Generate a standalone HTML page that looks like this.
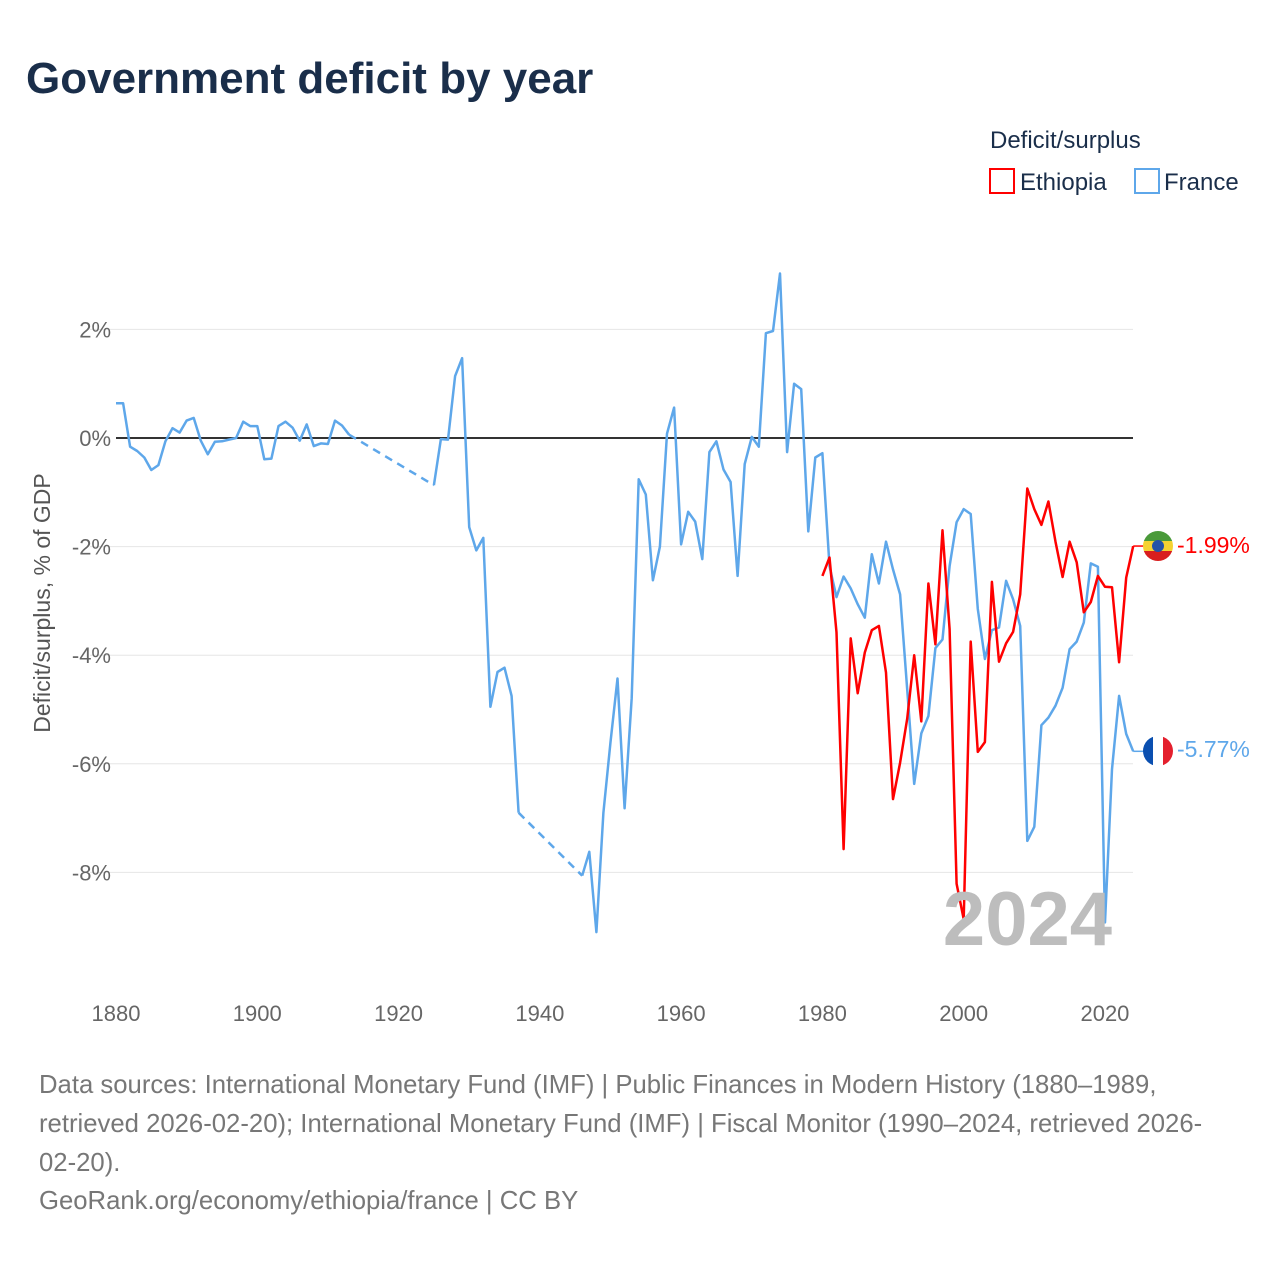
<!DOCTYPE html>
<html><head><meta charset="utf-8"><style>
body{margin:0;background:#fff;font-family:"Liberation Sans",sans-serif;}
svg text{font-family:"Liberation Sans",sans-serif;}
</style></head><body>
<svg id="chart" width="1280" height="1280" xmlns="http://www.w3.org/2000/svg">
<rect width="1280" height="1280" fill="#fff"/>
<text x="26" y="93" font-size="44" font-weight="bold" fill="#1a2e4a">Government deficit by year</text>
<text x="990" y="148" font-size="24" fill="#1a2e4a">Deficit/surplus</text>
<g><rect x="990" y="169" width="24" height="24" fill="none" stroke="#f00" stroke-width="2"/><text x="1020" y="190" font-size="24" fill="#1a2e4a">Ethiopia</text></g>
<g><rect x="1135" y="169" width="24" height="24" fill="none" stroke="#5ea7ea" stroke-width="2"/><text x="1164" y="190" font-size="24" fill="#1a2e4a">France</text></g>
<g id="grid"></g><g id="marks"></g>
<text transform="translate(50,603) rotate(-90)" text-anchor="middle" font-size="23" fill="#555">Deficit/surplus, % of GDP</text>
<text x="1112" y="945" text-anchor="end" font-size="76" font-weight="bold" fill="#bdbdbd">2024</text>
<g>
<clipPath id="ce"><circle cx="1158" cy="546" r="15"/></clipPath>
<g clip-path="url(#ce)"><rect x="1140" y="530" width="40" height="11" fill="#4a9a3a"/><rect x="1140" y="541" width="40" height="10" fill="#f5d230"/><rect x="1140" y="551" width="40" height="12" fill="#d81e1e"/><circle cx="1158" cy="546" r="6" fill="#2452a8"/></g></g>
<g>
<clipPath id="cf"><circle cx="1158" cy="751" r="15"/></clipPath>
<g clip-path="url(#cf)"><rect x="1140" y="734" width="13" height="36" fill="#0a4fb0"/><rect x="1153" y="734" width="10" height="36" fill="#fff"/><rect x="1163" y="734" width="16" height="36" fill="#e4202e"/></g></g>
<text x="1177" y="553" font-size="23" fill="#f00">-1.99%</text>
<text x="1177" y="757" font-size="23" fill="#5ea7ea">-5.77%</text>
<g font-size="25.7" fill="#777">
<text x="39" y="1093">Data sources: International Monetary Fund (IMF) | Public Finances in Modern History (1880–1989,</text>
<text x="39" y="1132">retrieved 2026-02-20); International Monetary Fund (IMF) | Fiscal Monitor (1990–2024, retrieved 2026-</text>
<text x="39" y="1171">02-20).</text>
<text x="39" y="1209">GeoRank.org/economy/ethiopia/france | CC BY</text>
</g>
</svg>
<script>
const franceYears1=[1880,1881,1882,1883,1884,1885,1886,1887,1888,1889,1890,1891,1892,1893,1894,1895,1896,1897,1898,1899,1900,1901,1902,1903,1904,1905,1906,1907,1908,1909,1910,1911,1912,1913];
const franceVals1=[0.64,0.64,-0.16,-0.24,-0.36,-0.59,-0.5,-0.06,0.18,0.1,0.32,0.37,-0.05,-0.3,-0.07,-0.06,-0.03,0.0,0.3,0.22,0.22,-0.39,-0.38,0.22,0.3,0.19,-0.05,0.25,-0.15,-0.1,-0.11,0.32,0.23,0.06];
const franceYears2=[1925,1926,1927,1928,1929,1930,1931,1932,1933,1934,1935,1936,1937];
const franceVals2=[-0.87,-0.02,-0.03,1.14,1.47,-1.64,-2.07,-1.84,-4.95,-4.31,-4.23,-4.75,-6.9];
const franceYears3=[1946,1947,1948,1949,1950,1951,1952,1953,1954,1955,1956,1957,1958,1959,1960,1961,1962,1963,1964,1965,1966,1967,1968,1969,1970,1971,1972,1973,1974,1975,1976,1977,1978,1979,1980,1981,1982,1983,1984,1985,1986,1987,1988,1989,1990,1991,1992,1993,1994,1995,1996,1997,1998,1999,2000,2001,2002,2003,2004,2005,2006,2007,2008,2009,2010,2011,2012,2013,2014,2015,2016,2017,2018,2019,2020,2021,2022,2023,2024];
const franceVals3=[-8.06,-7.62,-9.1,-6.9,-5.6,-4.43,-6.82,-4.79,-0.76,-1.04,-2.62,-2.0,0.08,0.56,-1.96,-1.36,-1.54,-2.23,-0.26,-0.06,-0.58,-0.81,-2.54,-0.48,0.02,-0.16,1.93,1.97,3.03,-0.26,1.0,0.9,-1.72,-0.36,-0.28,-2.36,-2.93,-2.55,-2.77,-3.06,-3.31,-2.14,-2.68,-1.91,-2.42,-2.88,-4.63,-6.37,-5.44,-5.12,-3.87,-3.71,-2.36,-1.55,-1.31,-1.4,-3.15,-4.07,-3.54,-3.49,-2.63,-2.97,-3.46,-7.42,-7.16,-5.29,-5.15,-4.93,-4.6,-3.89,-3.75,-3.4,-2.31,-2.37,-8.92,-6.1,-4.75,-5.45,-5.77];
const ethiopiaYears=[1980,1981,1982,1983,1984,1985,1986,1987,1988,1989,1990,1991,1992,1993,1994,1995,1996,1997,1998,1999,2000,2001,2002,2003,2004,2005,2006,2007,2008,2009,2010,2011,2012,2013,2014,2015,2016,2017,2018,2019,2020,2021,2022,2023,2024];
const ethiopiaVals=[-2.54,-2.2,-3.58,-7.57,-3.69,-4.7,-3.95,-3.54,-3.46,-4.32,-6.65,-5.98,-5.17,-4.0,-5.22,-2.68,-3.8,-1.7,-3.52,-8.21,-8.86,-3.75,-5.78,-5.6,-2.65,-4.12,-3.78,-3.57,-2.88,-0.93,-1.31,-1.6,-1.17,-1.91,-2.56,-1.91,-2.29,-3.21,-3.02,-2.54,-2.74,-2.75,-4.13,-2.57,-1.99];
const yTicks=[2,0,-2,-4,-6,-8];
const yTickLabels=["2%","0%","-2%","-4%","-6%","-8%"];
const xTicks=[1880,1900,1920,1940,1960,1980,2000,2020];

const NS="http://www.w3.org/2000/svg";
function X(yr){return 116+(yr-1880)*7.064;}
function Y(v){return 438-v*54.3;}
const grid=document.getElementById('grid'), marks=document.getElementById('marks');
function mk(tag,attrs,parent){const e=document.createElementNS(NS,tag);for(const k in attrs)e.setAttribute(k,attrs[k]);parent.appendChild(e);return e;}
yTicks.forEach((t,i)=>{
  if(t!==0){const l=mk('line',{x1:90,x2:1133,y1:Y(t),y2:Y(t),stroke:'#e6e6e6','stroke-width':1},grid);
  
  }
  const tx=mk('text',{x:111,y:Y(t)+8,'text-anchor':'end','font-size':22,fill:'#666'},grid);
  tx.textContent=yTickLabels[i];
  
  
});
xTicks.forEach(t=>{
  const tx=mk('text',{x:X(t),y:1021,'text-anchor':'middle','font-size':22,fill:'#666'},grid);
  tx.textContent=t;
  
  
});
const zl=mk('line',{x1:116,x2:1133,y1:Y(0),y2:Y(0),stroke:'#333','stroke-width':2},grid);


function pts(ys,vs){return ys.map((y,i)=>X(y).toFixed(1)+','+Y(vs[i]).toFixed(1)).join(' ');}
function poly(ys,vs,color,name,dash){
  const p=mk('polyline',{points:pts(ys,vs),fill:'none',stroke:color,'stroke-width':2.5,'stroke-linejoin':'round'},marks);
  if(dash)p.setAttribute('stroke-dasharray','8,6');
  
  
}
const fc='#5ea7ea';
poly(franceYears1,franceVals1,fc,'france-line-1880-1913');
poly([franceYears1[franceYears1.length-1],franceYears2[0]],[franceVals1[franceVals1.length-1],franceVals2[0]],fc,'france-gap-1914-1924',true);
poly(franceYears2,franceVals2,fc,'france-line-1925-1937');
poly([franceYears2[franceYears2.length-1],franceYears3[0]],[franceVals2[franceVals2.length-1],franceVals3[0]],fc,'france-gap-1938-1945',true);
poly(franceYears3,franceVals3,fc,'france-line-1946-2024');
poly(ethiopiaYears,ethiopiaVals,'#f00','ethiopia-line');
const eL=mk('line',{x1:X(2024),x2:1146,y1:Y(ethiopiaVals[ethiopiaVals.length-1]),y2:Y(ethiopiaVals[ethiopiaVals.length-1]),stroke:'#f00','stroke-width':1.5},marks);


const fL=mk('line',{x1:X(2024),x2:1146,y1:Y(franceVals3[franceVals3.length-1]),y2:Y(franceVals3[franceVals3.length-1]),stroke:fc,'stroke-width':1.5},marks);


</script>
</body></html>
